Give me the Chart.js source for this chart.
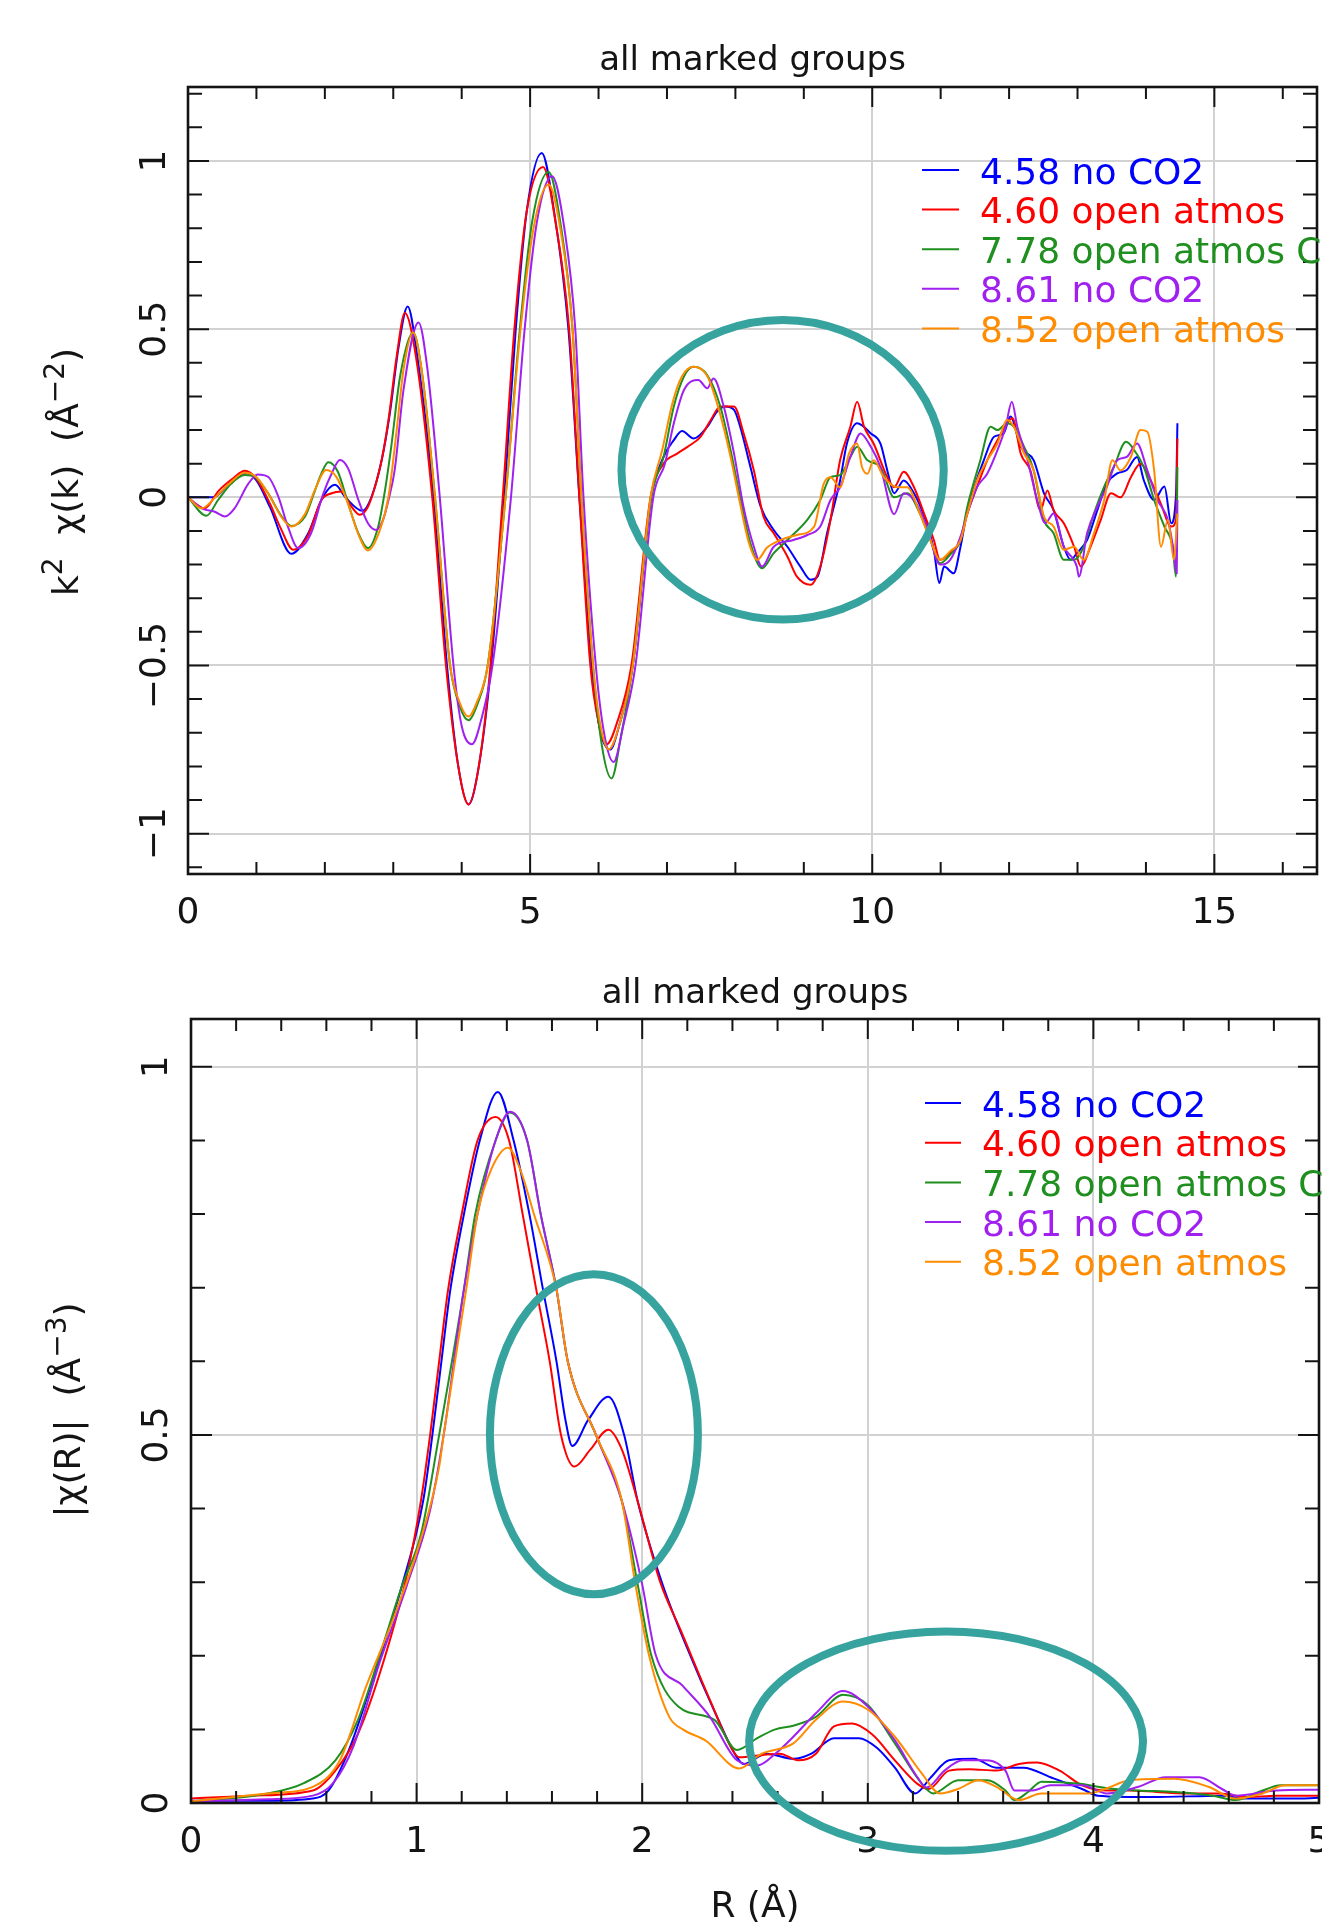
<!DOCTYPE html>
<html>
<head>
<meta charset="utf-8">
<title>all marked groups</title>
<script src="https://cdn.jsdelivr.net/npm/chart.js@4.4.1/dist/chart.umd.min.js"></script>
<style>
  html, body { margin: 0; padding: 0; background: #fff; }
  #wrap { position: relative; width: 1322px; height: 1929px; overflow: hidden; }
  canvas { position: absolute; left: 0; }
  #chart-k { top: 0; }
  #chart-r { top: 945px; }
</style>
</head>
<body>
<div id="wrap">
  <canvas id="chart-k" width="1322" height="945"></canvas>
  <canvas id="chart-r" width="1322" height="984"></canvas>
</div>
<script>
Chart.defaults.font.family = "'DejaVu Sans', sans-serif";

const INK = '#141414';
const GRID = '#d2d2d2';
const RING = '#37a39f';

const seriesLabels = ['4.58 no CO2', '4.60 open atmos', '7.78 open atmos CO2', '8.61 no CO2', '8.52 open atmos'];
const seriesColors = ['#0000ff', '#ff0000', '#1f8f1f', '#a020f0', '#ff8c00'];

// tick values
const kTicks = [0, 5, 10, 15];
const chiTicks = [-1, -0.5, 0, 0.5, 1];
const rTicks = [0, 1, 2, 3, 4, 5];
const magTicks = [0, 0.5, 1];

// k^2 chi(k): [k, value]
const chiK_458 = [[0,0],[0.37,0],[0.59,0.037],[0.85,0.072],[1.0,0.05],[1.2,-0.03],[1.51,-0.168],[1.75,-0.11],[1.97,0],[2.15,0.037],[2.3,0],[2.55,-0.04],[2.68,0],[2.83,0.11],[2.95,0.25],[3.08,0.45],[3.21,0.567],[3.35,0.42],[3.59,0],[3.785,-0.5],[3.95,-0.8],[4.10,-0.913],[4.25,-0.8],[4.43,-0.5],[4.62,0],[4.79,0.5],[4.95,0.85],[5.17,1.024],[5.35,0.85],[5.56,0.5],[5.72,0],[5.9,-0.5],[6.02,-0.69],[6.17,-0.75],[6.3,-0.68],[6.5,-0.5],[6.77,0],[6.95,0.12],[7.10,0.17],[7.22,0.197],[7.39,0.175],[7.59,0.21],[7.73,0.254],[7.85,0.27],[7.98,0.26],[8.07,0.21],[8.22,0.09],[8.37,-0.028],[8.56,-0.097],[8.76,-0.147],[8.95,-0.206],[9.10,-0.245],[9.20,-0.236],[9.34,-0.107],[9.53,0.05],[9.63,0.16],[9.78,0.22],[9.98,0.19],[10.12,0.16],[10.22,0.08],[10.32,0.012],[10.46,0.05],[10.61,0.012],[10.76,-0.057],[10.90,-0.156],[10.98,-0.255],[11.05,-0.206],[11.19,-0.226],[11.29,-0.147],[11.39,-0.038],[11.49,0.03],[11.63,0.11],[11.78,0.18],[11.92,0.19],[12.02,0.24],[12.17,0.15],[12.36,0.11],[12.51,0.012],[12.65,-0.038],[12.80,-0.147],[12.90,-0.186],[12.99,-0.166],[13.14,-0.127],[13.29,-0.038],[13.43,0.042],[13.58,0.071],[13.72,0.081],[13.87,0.12],[13.97,0.05],[14.12,-0.008],[14.27,0.032],[14.37,-0.077],[14.44,0.012],[14.46,0.22]];
const chiK_460 = [[0,0],[0.12,-0.02],[0.24,-0.033],[0.45,0.02],[0.65,0.055],[0.83,0.079],[1.0,0.055],[1.2,-0.02],[1.35,-0.09],[1.54,-0.156],[1.75,-0.115],[1.95,-0.008],[2.1,0.012],[2.24,0.017],[2.39,-0.028],[2.51,-0.052],[2.63,-0.028],[2.73,0.03],[2.83,0.11],[2.93,0.23],[3.05,0.42],[3.17,0.548],[3.33,0.42],[3.57,0],[3.77,-0.5],[3.95,-0.8],[4.10,-0.913],[4.25,-0.8],[4.42,-0.5],[4.6,0],[4.77,0.5],[4.95,0.85],[5.19,0.982],[5.37,0.82],[5.57,0.5],[5.72,0],[5.88,-0.5],[6.0,-0.67],[6.12,-0.734],[6.27,-0.67],[6.48,-0.5],[6.76,0],[6.95,0.10],[7.15,0.13],[7.30,0.15],[7.49,0.18],[7.64,0.23],[7.78,0.27],[7.98,0.27],[8.12,0.19],[8.27,0.08],[8.41,-0.057],[8.56,-0.107],[8.76,-0.176],[8.90,-0.236],[9.10,-0.26],[9.24,-0.206],[9.39,-0.067],[9.53,0.11],[9.68,0.21],[9.78,0.284],[9.88,0.21],[10.02,0.16],[10.22,0.06],[10.32,0.03],[10.46,0.076],[10.61,0.03],[10.76,-0.05],[10.90,-0.127],[10.99,-0.186],[11.14,-0.166],[11.29,-0.127],[11.39,-0.048],[11.53,0.03],[11.68,0.11],[11.83,0.17],[11.97,0.22],[12.05,0.235],[12.17,0.13],[12.31,0.08],[12.46,-0.038],[12.56,0.02],[12.65,-0.038],[12.80,-0.077],[12.95,-0.147],[13.05,-0.206],[13.19,-0.147],[13.34,-0.067],[13.49,0.012],[13.63,0],[13.78,0.06],[13.92,0.1],[14.07,0.05],[14.22,-0.02],[14.37,-0.087],[14.44,-0.067],[14.46,0.175]];
const chiK_778 = [[0,0],[0.27,-0.055],[0.44,-0.008],[0.63,0.04],[0.83,0.066],[0.98,0.06],[1.17,0.012],[1.37,-0.057],[1.51,-0.085],[1.71,-0.057],[1.85,0.017],[1.95,0.071],[2.05,0.104],[2.19,0.076],[2.34,-0.018],[2.49,-0.107],[2.63,-0.151],[2.78,-0.087],[2.88,0.022],[2.97,0.15],[3.1,0.36],[3.29,0.49],[3.42,0.37],[3.61,0],[3.83,-0.5],[3.97,-0.62],[4.10,-0.663],[4.22,-0.62],[4.38,-0.5],[4.64,0],[4.85,0.5],[5.03,0.82],[5.27,0.967],[5.44,0.82],[5.62,0.5],[5.75,0],[5.92,-0.5],[6.05,-0.74],[6.19,-0.836],[6.32,-0.72],[6.5,-0.5],[6.77,0],[6.95,0.12],[7.10,0.27],[7.25,0.36],[7.39,0.388],[7.59,0.363],[7.78,0.27],[7.93,0.14],[8.07,0],[8.22,-0.137],[8.39,-0.211],[8.56,-0.166],[8.76,-0.127],[9.05,-0.067],[9.24,-0.008],[9.39,0.06],[9.53,0.066],[9.68,0.12],[9.78,0.15],[9.93,0.11],[10.12,0.09],[10.32,0],[10.51,0.012],[10.70,-0.05],[10.85,-0.127],[10.99,-0.196],[11.14,-0.17],[11.29,-0.127],[11.39,-0.028],[11.58,0.11],[11.73,0.21],[11.83,0.2],[11.97,0.22],[12.07,0.21],[12.22,0.15],[12.36,0.08],[12.51,-0.067],[12.65,-0.107],[12.80,-0.186],[12.95,-0.186],[13.09,-0.147],[13.24,-0.048],[13.39,0.032],[13.53,0.09],[13.71,0.165],[13.83,0.14],[13.97,0.09],[14.12,-0.008],[14.27,-0.087],[14.39,-0.147],[14.44,-0.236],[14.46,0.09]];
const chiK_861 = [[0,0],[0.2,-0.033],[0.39,-0.043],[0.54,-0.057],[0.68,-0.033],[0.88,0.04],[1.02,0.068],[1.17,0.061],[1.32,0.002],[1.46,-0.087],[1.61,-0.151],[1.8,-0.106],[1.97,0.007],[2.1,0.071],[2.22,0.111],[2.34,0.086],[2.49,-0.008],[2.63,-0.077],[2.75,-0.097],[2.85,-0.067],[2.93,-0.008],[3.02,0.08],[3.15,0.32],[3.37,0.52],[3.5,0.38],[3.68,0],[3.88,-0.5],[4.0,-0.68],[4.15,-0.734],[4.3,-0.65],[4.45,-0.5],[4.72,0],[4.92,0.5],[5.1,0.82],[5.32,0.955],[5.5,0.8],[5.66,0.5],[5.78,0],[5.96,-0.5],[6.08,-0.7],[6.22,-0.787],[6.36,-0.68],[6.54,-0.5],[6.8,0],[6.97,0.1],[7.1,0.22],[7.25,0.32],[7.46,0.349],[7.59,0.324],[7.68,0.353],[7.83,0.27],[7.98,0.13],[8.12,-0.03],[8.27,-0.147],[8.39,-0.206],[8.56,-0.147],[8.85,-0.127],[9.05,-0.112],[9.24,-0.087],[9.39,-0.008],[9.53,0.03],[9.68,0.12],[9.83,0.19],[9.98,0.15],[10.12,0.09],[10.32,-0.05],[10.46,0.012],[10.61,-0.008],[10.80,-0.087],[10.99,-0.2],[11.14,-0.186],[11.29,-0.117],[11.39,-0.048],[11.53,0.03],[11.68,0.07],[11.83,0.14],[11.95,0.21],[12.04,0.284],[12.12,0.21],[12.27,0.11],[12.41,-0.008],[12.53,-0.077],[12.65,-0.048],[12.80,-0.147],[12.99,-0.206],[13.02,-0.236],[13.14,-0.107],[13.29,-0.028],[13.43,0.032],[13.58,0.11],[13.72,0.12],[13.87,0.16],[14.02,0.08],[14.17,-0.008],[14.32,-0.067],[14.41,-0.166],[14.45,-0.226],[14.46,-0.008]];
const chiK_852 = [[0,0],[0.2,-0.033],[0.4,0],[0.6,0.04],[0.83,0.073],[1.0,0.06],[1.17,0.012],[1.37,-0.06],[1.51,-0.087],[1.71,-0.05],[1.85,0.02],[2.02,0.081],[2.17,0.06],[2.34,-0.02],[2.49,-0.11],[2.63,-0.158],[2.8,-0.1],[2.93,0.002],[3.05,0.2],[3.15,0.38],[3.29,0.49],[3.42,0.37],[3.61,0],[3.83,-0.5],[3.97,-0.61],[4.10,-0.652],[4.22,-0.61],[4.38,-0.5],[4.64,0],[4.86,0.5],[5.05,0.8],[5.27,0.93],[5.44,0.8],[5.62,0.5],[5.75,0],[5.92,-0.5],[6.03,-0.68],[6.15,-0.749],[6.3,-0.68],[6.5,-0.5],[6.76,0],[6.93,0.14],[7.08,0.28],[7.22,0.36],[7.39,0.388],[7.59,0.36],[7.76,0.26],[7.93,0.12],[8.05,0],[8.2,-0.137],[8.32,-0.186],[8.46,-0.15],[8.66,-0.127],[8.90,-0.112],[9.15,-0.087],[9.29,0.04],[9.39,0.06],[9.53,0.03],[9.66,0.13],[9.78,0.16],[9.85,0.09],[9.93,0.07],[10.02,0.11],[10.17,0.06],[10.36,0.03],[10.51,0.03],[10.70,-0.05],[10.85,-0.127],[10.99,-0.186],[11.14,-0.16],[11.29,-0.127],[11.39,-0.048],[11.53,0.05],[11.68,0.11],[11.83,0.16],[11.97,0.23],[12.07,0.21],[12.22,0.13],[12.36,0.08],[12.51,-0.057],[12.65,-0.087],[12.80,-0.156],[12.95,-0.147],[13.09,-0.186],[13.24,-0.107],[13.39,-0.008],[13.51,0.11],[13.63,0.08],[13.78,0.12],[13.92,0.2],[14.02,0.195],[14.12,0.08],[14.22,-0.147],[14.32,-0.067],[14.41,-0.186],[14.46,-0.048]];

// |chi(R)|: [R, value]
const magR_458 = [[0,0.003],[0.34,0.003],[0.54,0.006],[0.61,0.017],[0.70,0.072],[0.815,0.177],[0.934,0.294],[1.03,0.412],[1.07,0.5],[1.11,0.6],[1.15,0.698],[1.21,0.80],[1.28,0.90],[1.36,0.966],[1.43,0.90],[1.50,0.80],[1.56,0.698],[1.62,0.60],[1.66,0.52],[1.69,0.485],[1.76,0.52],[1.85,0.552],[1.92,0.5],[1.98,0.41],[2.09,0.297],[2.2,0.21],[2.32,0.125],[2.42,0.062],[2.45,0.053],[2.55,0.067],[2.67,0.06],[2.75,0.067],[2.85,0.088],[2.96,0.088],[3.04,0.075],[3.12,0.048],[3.21,0.013],[3.28,0.035],[3.36,0.058],[3.47,0.06],[3.57,0.048],[3.69,0.048],[3.81,0.035],[3.95,0.019],[4.02,0.010],[4.26,0.008],[4.57,0.01],[4.68,0.006],[4.88,0.006],[5.0,0.007]];
const magR_460 = [[0,0.006],[0.27,0.01],[0.54,0.017],[0.64,0.044],[0.74,0.094],[0.855,0.194],[0.955,0.307],[1.02,0.412],[1.06,0.5],[1.10,0.6],[1.14,0.698],[1.20,0.80],[1.27,0.90],[1.35,0.932],[1.41,0.90],[1.47,0.80],[1.53,0.698],[1.59,0.60],[1.64,0.5],[1.70,0.457],[1.77,0.48],[1.85,0.507],[1.91,0.48],[1.98,0.41],[2.08,0.30],[2.17,0.235],[2.30,0.14],[2.40,0.072],[2.43,0.062],[2.53,0.065],[2.61,0.067],[2.69,0.058],[2.77,0.067],[2.85,0.104],[2.93,0.108],[3.02,0.093],[3.12,0.058],[3.22,0.026],[3.27,0.019],[3.36,0.044],[3.45,0.046],[3.57,0.044],[3.67,0.053],[3.75,0.055],[3.85,0.044],[3.95,0.024],[4.06,0.017],[4.16,0.017],[4.28,0.015],[4.40,0.013],[4.56,0.013],[4.68,0.008],[4.81,0.01],[5.0,0.01]];
const magR_778 = [[0,0.002],[0.34,0.013],[0.5,0.027],[0.64,0.058],[0.74,0.113],[0.835,0.199],[0.934,0.294],[1.02,0.366],[1.10,0.5],[1.21,0.698],[1.26,0.80],[1.35,0.90],[1.413,0.938],[1.49,0.90],[1.55,0.80],[1.62,0.698],[1.67,0.60],[1.795,0.5],[1.91,0.41],[1.98,0.297],[2.04,0.201],[2.16,0.131],[2.32,0.113],[2.42,0.072],[2.51,0.088],[2.59,0.1],[2.67,0.105],[2.77,0.117],[2.89,0.147],[3.0,0.133],[3.12,0.081],[3.24,0.026],[3.29,0.013],[3.40,0.031],[3.53,0.031],[3.61,0.017],[3.65,0.004],[3.71,0.015],[3.77,0.029],[3.94,0.026],[4.06,0.02],[4.20,0.017],[4.36,0.015],[4.53,0.01],[4.63,0.004],[4.75,0.017],[4.83,0.024],[5.0,0.024]];
const magR_861 = [[0,0.002],[0.34,0.005],[0.54,0.01],[0.63,0.027],[0.72,0.077],[0.835,0.19],[0.955,0.294],[1.06,0.398],[1.12,0.5],[1.21,0.698],[1.27,0.80],[1.35,0.90],[1.415,0.939],[1.49,0.90],[1.55,0.80],[1.62,0.698],[1.67,0.60],[1.795,0.5],[1.91,0.41],[2.0,0.297],[2.06,0.201],[2.18,0.159],[2.30,0.117],[2.42,0.058],[2.51,0.051],[2.59,0.067],[2.67,0.09],[2.77,0.122],[2.89,0.152],[3.0,0.131],[3.12,0.085],[3.22,0.035],[3.26,0.021],[3.34,0.044],[3.42,0.058],[3.51,0.058],[3.61,0.044],[3.65,0.017],[3.73,0.017],[3.81,0.024],[3.95,0.024],[4.06,0.013],[4.20,0.022],[4.32,0.035],[4.47,0.035],[4.57,0.019],[4.63,0.01],[4.81,0.017],[5.0,0.018]];
const magR_852 = [[0,0.002],[0.34,0.013],[0.54,0.022],[0.66,0.058],[0.776,0.158],[0.90,0.253],[1.013,0.353],[1.10,0.457],[1.12,0.5],[1.22,0.698],[1.27,0.80],[1.33,0.86],[1.405,0.89],[1.46,0.86],[1.52,0.80],[1.62,0.698],[1.67,0.60],[1.795,0.5],[1.91,0.41],[1.97,0.297],[2.03,0.201],[2.12,0.117],[2.18,0.1],[2.28,0.085],[2.43,0.047],[2.53,0.067],[2.67,0.081],[2.77,0.113],[2.89,0.138],[3.0,0.127],[3.12,0.09],[3.24,0.04],[3.32,0.013],[3.40,0.019],[3.49,0.031],[3.57,0.022],[3.67,0.004],[3.77,0.013],[3.98,0.013],[4.06,0.02],[4.16,0.031],[4.36,0.033],[4.51,0.022],[4.63,0.006],[4.75,0.013],[4.85,0.024],[5.0,0.024]];

function fmtTick(v) {
  if (v === 0) return '0';
  return (v < 0 ? '\u2212' : '') + Math.abs(v);
}

function eachStep(min, max, step, fn) {
  const n0 = Math.ceil(min / step - 1e-6), n1 = Math.floor(max / step + 1e-6);
  for (let n = n0; n <= n1; n++) fn(+(n * step).toFixed(6));
}

const isMajor = (v, major) => Math.abs(v / major - Math.round(v / major)) < 1e-6;

// rotated axis title with superscripts
function drawRich(ctx, parts, x, y, size) {
  ctx.save();
  ctx.translate(x, y);
  ctx.rotate(-Math.PI / 2);
  ctx.textAlign = 'left';
  ctx.textBaseline = 'alphabetic';
  const fontFor = p => (p.sup ? Math.round(size * 0.78) : size) + 'px "DejaVu Sans"';
  let total = 0;
  parts.forEach(p => { ctx.font = fontFor(p); total += ctx.measureText(p.t).width; });
  let cx = -total / 2;
  parts.forEach(p => {
    ctx.font = fontFor(p);
    ctx.fillText(p.t, cx, p.sup ? -p.sup : 0);
    cx += ctx.measureText(p.t).width;
  });
  ctx.restore();
}

// frame, inward ticks, rotated y labels, title, legend and the highlight rings
const plotDecor = {
  id: 'plotDecor',
  afterDatasetsDraw(chart, args, o) {
    const ctx = chart.ctx;
    const area = chart.chartArea;
    const xs = chart.scales.x, ys = chart.scales.y;
    ctx.save();

    ctx.strokeStyle = INK;
    ctx.lineWidth = 2;
    ctx.beginPath();
    eachStep(xs.min, xs.max, o.xMinor, v => {
      const px = xs.getPixelForValue(v);
      const len = isMajor(v, o.xMajor) ? 20 : 12;
      ctx.moveTo(px, area.bottom); ctx.lineTo(px, area.bottom - len);
      ctx.moveTo(px, area.top); ctx.lineTo(px, area.top + len);
    });
    eachStep(ys.min, ys.max, o.yMinor, v => {
      const py = ys.getPixelForValue(v);
      const len = isMajor(v, o.yMajor) ? 21 : 14;
      ctx.moveTo(area.left, py); ctx.lineTo(area.left + len, py);
      ctx.moveTo(area.right, py); ctx.lineTo(area.right - len, py);
    });
    ctx.stroke();
    ctx.lineWidth = 2.6;
    ctx.strokeRect(area.left, area.top, area.right - area.left, area.bottom - area.top);

    // y tick labels, turned to read upward
    ctx.fillStyle = INK;
    ctx.font = '36px "DejaVu Sans"';
    ctx.textAlign = 'center';
    ctx.textBaseline = 'alphabetic';
    ys.ticks.forEach(t => {
      const py = ys.getPixelForValue(t.value);
      ctx.save();
      ctx.translate(o.yLabelX, py);
      ctx.rotate(-Math.PI / 2);
      ctx.fillText(fmtTick(t.value), 0, 0);
      ctx.restore();
    });

    drawRich(ctx, o.yTitle, o.yTitleX, o.yTitleY, 36);

    ctx.font = '34px "DejaVu Sans"';
    ctx.textAlign = 'center';
    ctx.fillStyle = INK;
    ctx.fillText(o.title, (area.left + area.right) / 2, o.titleBase);

    // legend
    ctx.font = '36px "DejaVu Sans"';
    ctx.textAlign = 'left';
    ctx.lineWidth = 2;
    chart.data.datasets.forEach((ds, i) => {
      const cy = o.legend.y0 + i * o.legend.dy;
      ctx.strokeStyle = ds.borderColor;
      ctx.beginPath();
      ctx.moveTo(o.legend.x0, cy);
      ctx.lineTo(o.legend.x1, cy);
      ctx.stroke();
      ctx.fillStyle = ds.borderColor;
      ctx.fillText(ds.label, o.legend.tx, cy + 13.5);
    });

    ctx.strokeStyle = RING;
    ctx.lineWidth = 8;
    o.rings.forEach(e => {
      const cx = xs.getPixelForValue(e.x), cy = ys.getPixelForValue(e.y);
      const rx = Math.abs(xs.getPixelForValue(e.x + e.rx) - cx);
      const ry = Math.abs(ys.getPixelForValue(e.y + e.ry) - cy);
      ctx.beginPath();
      ctx.ellipse(cx, cy, rx, ry, 0, 0, Math.PI * 2);
      ctx.stroke();
    });
    ctx.restore();
  }
};

function lineSets(seriesList) {
  return seriesList.map((pairs, i) => ({
    label: seriesLabels[i],
    data: pairs.map(p => ({ x: p[0], y: p[1] })),
    borderColor: seriesColors[i],
    borderWidth: 2,
    pointRadius: 0,
    fill: false,
    cubicInterpolationMode: 'monotone',
    order: seriesList.length - i
  }));
}

function axis(ticks, min, max, size, horizontal, extra) {
  return Object.assign({
    type: 'linear',
    min: min,
    max: max,
    afterBuildTicks: s => { s.ticks = ticks.map(v => ({ value: v })); },
    afterFit: s => {
      if (horizontal) s.height = size; else s.width = size;
      s.paddingLeft = 0; s.paddingRight = 0; s.paddingTop = 0; s.paddingBottom = 0;
    },
    grid: { color: GRID, lineWidth: 2, drawTicks: false },
    border: { display: false },
    ticks: horizontal
      ? { font: { size: 36 }, color: INK, padding: 18, maxRotation: 0, autoSkip: false, callback: v => fmtTick(v) }
      : { display: false }
  }, extra || {});
}

new Chart(document.getElementById('chart-k'), {
  type: 'line',
  data: { datasets: lineSets([chiK_458, chiK_460, chiK_778, chiK_861, chiK_852]) },
  options: {
    responsive: false,
    animation: false,
    events: [],
    layout: { padding: { top: 87, right: 5, bottom: 0, left: 0 } },
    scales: {
      x: axis(kTicks, 0, 16.5, 71, true),
      y: axis(chiTicks, -1.12, 1.22, 188, false)
    },
    plugins: {
      legend: { display: false },
      tooltip: { enabled: false },
      plotDecor: {
        title: 'all marked groups', titleBase: 70,
        xMinor: 1, xMajor: 5, yMinor: 0.1, yMajor: 0.5,
        yLabelX: 165,
        yTitle: [{ t: 'k' }, { t: '2', sup: 16 }, { t: '  \u03c7(k)  (\u00c5' }, { t: '\u22122', sup: 14 }, { t: ')' }],
        yTitleX: 78, yTitleY: 472,
        legend: { y0: 170, dy: 39.6, x0: 922, x1: 959, tx: 980 },
        rings: [{ x: 8.69, y: 0.082, rx: 2.355, ry: 0.4455 }]
      }
    }
  },
  plugins: [plotDecor]
});

new Chart(document.getElementById('chart-r'), {
  type: 'line',
  data: { datasets: lineSets([magR_458, magR_460, magR_778, magR_861, magR_852]) },
  options: {
    responsive: false,
    animation: false,
    events: [],
    layout: { padding: { top: 74, right: 3, bottom: 0, left: 0 } },
    scales: {
      x: axis(rTicks, 0, 5, 126, true, {
        title: { display: true, text: 'R (\u00c5)', font: { size: 36 }, color: INK, padding: { top: 0, bottom: 0 } }
      }),
      y: axis(magTicks, 0, 1.065, 191, false)
    },
    plugins: {
      legend: { display: false },
      tooltip: { enabled: false },
      plotDecor: {
        title: 'all marked groups', titleBase: 58,
        xMinor: 0.2, xMajor: 1, yMinor: 0.1, yMajor: 0.5,
        yLabelX: 167,
        yTitle: [{ t: '|\u03c7(R)|  (\u00c5' }, { t: '\u22123', sup: 14 }, { t: ')' }],
        yTitleX: 80, yTitleY: 465,
        legend: { y0: 158, dy: 39.7, x0: 925, x1: 961, tx: 982 },
        rings: [{ x: 1.786, y: 0.501, rx: 0.461, ry: 0.2174 }, { x: 3.347, y: 0.084, rx: 0.873, ry: 0.149 }]
      }
    }
  },
  plugins: [plotDecor]
});
</script>
</body>
</html>
